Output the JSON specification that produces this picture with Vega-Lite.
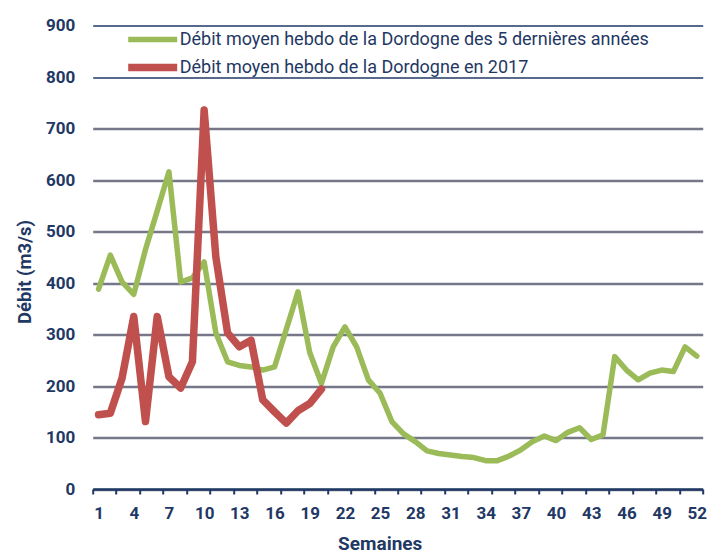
{
  "$schema": "https://vega.github.io/schema/vega-lite/v6.json",
  "width": 610,
  "height": 463.5,
  "autosize": {"type": "none"},
  "padding": {"left": 92.7, "top": 25.5, "right": 24.3, "bottom": 67},
  "background": "white",
  "config": {"view": {"stroke": null, "fill": "white"}},
  "data": {"values": [
    {"week":1,"serie":"Débit moyen hebdo de la Dordogne des 5 dernières années","value":388},
    {"week":2,"serie":"Débit moyen hebdo de la Dordogne des 5 dernières années","value":454},
    {"week":3,"serie":"Débit moyen hebdo de la Dordogne des 5 dernières années","value":402},
    {"week":4,"serie":"Débit moyen hebdo de la Dordogne des 5 dernières années","value":378},
    {"week":5,"serie":"Débit moyen hebdo de la Dordogne des 5 dernières années","value":465},
    {"week":6,"serie":"Débit moyen hebdo de la Dordogne des 5 dernières années","value":540},
    {"week":7,"serie":"Débit moyen hebdo de la Dordogne des 5 dernières années","value":616},
    {"week":8,"serie":"Débit moyen hebdo de la Dordogne des 5 dernières années","value":402},
    {"week":9,"serie":"Débit moyen hebdo de la Dordogne des 5 dernières années","value":410},
    {"week":10,"serie":"Débit moyen hebdo de la Dordogne des 5 dernières années","value":441},
    {"week":11,"serie":"Débit moyen hebdo de la Dordogne des 5 dernières années","value":303},
    {"week":12,"serie":"Débit moyen hebdo de la Dordogne des 5 dernières années","value":247},
    {"week":13,"serie":"Débit moyen hebdo de la Dordogne des 5 dernières années","value":240},
    {"week":14,"serie":"Débit moyen hebdo de la Dordogne des 5 dernières années","value":237},
    {"week":15,"serie":"Débit moyen hebdo de la Dordogne des 5 dernières années","value":231},
    {"week":16,"serie":"Débit moyen hebdo de la Dordogne des 5 dernières années","value":237},
    {"week":17,"serie":"Débit moyen hebdo de la Dordogne des 5 dernières années","value":310},
    {"week":18,"serie":"Débit moyen hebdo de la Dordogne des 5 dernières années","value":383},
    {"week":19,"serie":"Débit moyen hebdo de la Dordogne des 5 dernières années","value":265},
    {"week":20,"serie":"Débit moyen hebdo de la Dordogne des 5 dernières années","value":205},
    {"week":21,"serie":"Débit moyen hebdo de la Dordogne des 5 dernières années","value":276},
    {"week":22,"serie":"Débit moyen hebdo de la Dordogne des 5 dernières années","value":315},
    {"week":23,"serie":"Débit moyen hebdo de la Dordogne des 5 dernières années","value":276},
    {"week":24,"serie":"Débit moyen hebdo de la Dordogne des 5 dernières années","value":212},
    {"week":25,"serie":"Débit moyen hebdo de la Dordogne des 5 dernières années","value":186},
    {"week":26,"serie":"Débit moyen hebdo de la Dordogne des 5 dernières années","value":131},
    {"week":27,"serie":"Débit moyen hebdo de la Dordogne des 5 dernières années","value":107},
    {"week":28,"serie":"Débit moyen hebdo de la Dordogne des 5 dernières années","value":92},
    {"week":29,"serie":"Débit moyen hebdo de la Dordogne des 5 dernières années","value":74},
    {"week":30,"serie":"Débit moyen hebdo de la Dordogne des 5 dernières années","value":69},
    {"week":31,"serie":"Débit moyen hebdo de la Dordogne des 5 dernières années","value":66},
    {"week":32,"serie":"Débit moyen hebdo de la Dordogne des 5 dernières années","value":63},
    {"week":33,"serie":"Débit moyen hebdo de la Dordogne des 5 dernières années","value":61},
    {"week":34,"serie":"Débit moyen hebdo de la Dordogne des 5 dernières années","value":55},
    {"week":35,"serie":"Débit moyen hebdo de la Dordogne des 5 dernières années","value":55},
    {"week":36,"serie":"Débit moyen hebdo de la Dordogne des 5 dernières années","value":64},
    {"week":37,"serie":"Débit moyen hebdo de la Dordogne des 5 dernières années","value":76},
    {"week":38,"serie":"Débit moyen hebdo de la Dordogne des 5 dernières années","value":92},
    {"week":39,"serie":"Débit moyen hebdo de la Dordogne des 5 dernières années","value":103},
    {"week":40,"serie":"Débit moyen hebdo de la Dordogne des 5 dernières années","value":94},
    {"week":41,"serie":"Débit moyen hebdo de la Dordogne des 5 dernières années","value":110},
    {"week":42,"serie":"Débit moyen hebdo de la Dordogne des 5 dernières années","value":119},
    {"week":43,"serie":"Débit moyen hebdo de la Dordogne des 5 dernières années","value":96},
    {"week":44,"serie":"Débit moyen hebdo de la Dordogne des 5 dernières années","value":105},
    {"week":45,"serie":"Débit moyen hebdo de la Dordogne des 5 dernières années","value":257},
    {"week":46,"serie":"Débit moyen hebdo de la Dordogne des 5 dernières années","value":231},
    {"week":47,"serie":"Débit moyen hebdo de la Dordogne des 5 dernières années","value":212},
    {"week":48,"serie":"Débit moyen hebdo de la Dordogne des 5 dernières années","value":225},
    {"week":49,"serie":"Débit moyen hebdo de la Dordogne des 5 dernières années","value":231},
    {"week":50,"serie":"Débit moyen hebdo de la Dordogne des 5 dernières années","value":228},
    {"week":51,"serie":"Débit moyen hebdo de la Dordogne des 5 dernières années","value":276},
    {"week":52,"serie":"Débit moyen hebdo de la Dordogne des 5 dernières années","value":258},
    {"week":1,"serie":"Débit moyen hebdo de la Dordogne en 2017","value":144},
    {"week":2,"serie":"Débit moyen hebdo de la Dordogne en 2017","value":147},
    {"week":3,"serie":"Débit moyen hebdo de la Dordogne en 2017","value":215},
    {"week":4,"serie":"Débit moyen hebdo de la Dordogne en 2017","value":335},
    {"week":5,"serie":"Débit moyen hebdo de la Dordogne en 2017","value":131},
    {"week":6,"serie":"Débit moyen hebdo de la Dordogne en 2017","value":335},
    {"week":7,"serie":"Débit moyen hebdo de la Dordogne en 2017","value":218},
    {"week":8,"serie":"Débit moyen hebdo de la Dordogne en 2017","value":196},
    {"week":9,"serie":"Débit moyen hebdo de la Dordogne en 2017","value":247},
    {"week":10,"serie":"Débit moyen hebdo de la Dordogne en 2017","value":736},
    {"week":11,"serie":"Débit moyen hebdo de la Dordogne en 2017","value":450},
    {"week":12,"serie":"Débit moyen hebdo de la Dordogne en 2017","value":303},
    {"week":13,"serie":"Débit moyen hebdo de la Dordogne en 2017","value":276},
    {"week":14,"serie":"Débit moyen hebdo de la Dordogne en 2017","value":289},
    {"week":15,"serie":"Débit moyen hebdo de la Dordogne en 2017","value":173},
    {"week":16,"serie":"Débit moyen hebdo de la Dordogne en 2017","value":150},
    {"week":17,"serie":"Débit moyen hebdo de la Dordogne en 2017","value":128},
    {"week":18,"serie":"Débit moyen hebdo de la Dordogne en 2017","value":152},
    {"week":19,"serie":"Débit moyen hebdo de la Dordogne en 2017","value":166},
    {"week":20,"serie":"Débit moyen hebdo de la Dordogne en 2017","value":194}
  ]},
  "mark": {"type": "line", "strokeCap": "round", "strokeJoin": "round", "clip": false},
  "encoding": {
    "x": {
      "field": "week", "type": "quantitative",
      "scale": {"domain": [0.5, 52.5], "nice": false, "zero": false},
      "axis": {
        "title": "Semaines",
        "titleFont": "Roboto", "titleFontSize": 19, "titleFontWeight": "bold", "titleColor": "#1f3864",
        "titleX": 287, "titleY": 54, "titleAlign": "center", "titleBaseline": "middle", "titleAnchor": null,
        "values": [0.5,1,2.5,4,4.5,6.5,7,8.5,10,10.5,12.5,13,14.5,16,16.5,18.5,19,20.5,22,22.5,24.5,25,26.5,28,28.5,30.5,31,32.5,34,34.5,36.5,37,38.5,40,40.5,42.5,43,44.5,46,46.5,48.5,49,50.5,52,52.5],
        "labelExpr": "datum.value % 1 == 0 ? datum.label : ''",
        "labelOverlap": false, "labelBound": false, "labelFlush": false,
        "labelFont": "Roboto", "labelFontSize": 17, "labelFontWeight": "bold", "labelColor": "#1f3864",
        "labelPadding": 11,
        "tickOpacity": {"condition": {"test": "datum.value % 1 != 0", "value": 1}, "value": 0},
        "tickColor": "#1f3864", "tickWidth": 2, "tickSize": 5,
        "domainColor": "#1f3864", "domainWidth": 2.5,
        "grid": false
      }
    },
    "y": {
      "field": "value", "type": "quantitative",
      "scale": {"domain": [0, 900], "nice": false},
      "axis": {
        "title": "Débit (m3/s)",
        "titleFont": "Roboto", "titleFontSize": 18.5, "titleFontWeight": "bold", "titleColor": "#1f3864",
        "titleX": -68, "titleY": 246, "titleAngle": -90, "titleAlign": "center", "titleBaseline": "middle", "titleAnchor": null,
        "values": [0,100,200,300,400,500,600,700,800,900],
        "labelFont": "Roboto", "labelFontSize": 17, "labelFontWeight": "bold", "labelColor": "#1f3864",
        "labelPadding": 18,
        "ticks": false, "domain": false,
        "grid": true,
        "gridColor": {"condition": {"test": "datum.value >= 800", "value": "#1f3864"}, "value": "#767789"},
        "gridWidth": {"condition": {"test": "datum.value >= 800", "value": 1.5}, "value": 2.5}
      }
    },
    "color": {
      "field": "serie", "type": "nominal",
      "scale": {
        "domain": ["Débit moyen hebdo de la Dordogne des 5 dernières années", "Débit moyen hebdo de la Dordogne en 2017"],
        "range": ["#9bbb59", "#c0504d"]
      },
      "legend": {
        "title": null, "orient": "none", "legendX": 44, "legendY": -1,
        "symbolType": "M-2,0H2", "symbolSize": 600, "symbolStrokeWidth": 6,
        "labelFont": "Roboto", "labelFontSize": 18, "labelColor": "#1f3864", "labelOffset": 11,
        "rowPadding": 1, "padding": 0, "labelLimit": 600
      }
    },
    "strokeWidth": {
      "field": "serie", "type": "nominal",
      "scale": {
        "domain": ["Débit moyen hebdo de la Dordogne des 5 dernières années", "Débit moyen hebdo de la Dordogne en 2017"],
        "range": [5.5, 7.5]
      },
      "legend": null
    },
    "order": {"field": "week"}
  }
}
